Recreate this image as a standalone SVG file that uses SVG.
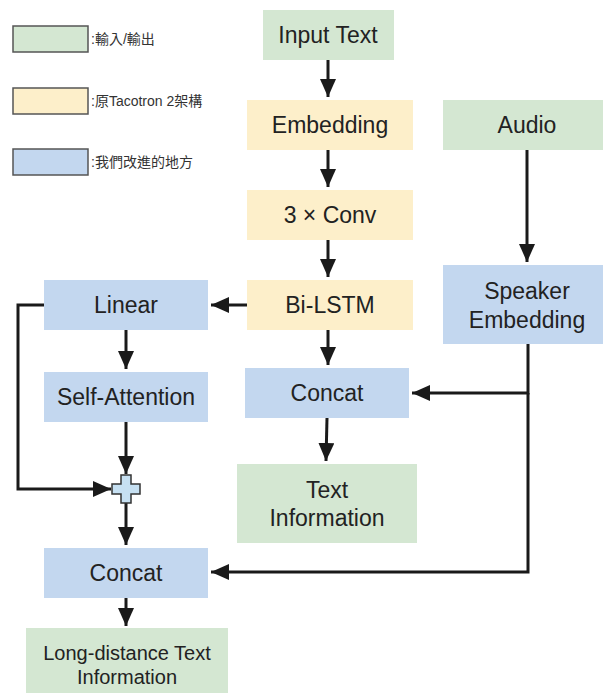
<svg xmlns="http://www.w3.org/2000/svg" width="603" height="693" viewBox="0 0 603 693">
<defs>
<marker id="arr" markerUnits="userSpaceOnUse" markerWidth="20" markerHeight="18" refX="18" refY="8" orient="auto">
<path d="M0,0 L18,8 L0,16 Z" fill="#1a1a1a"/>
</marker>
<style>
.g{fill:#d4e7d2}
.y{fill:#fdefca}
.b{fill:#c3d7ef}
.lg{stroke:#555;stroke-width:1.5}
.t{font-family:"Liberation Sans",Arial,sans-serif;font-size:23px;fill:#222;text-anchor:middle}
.s{font-size:20px}
.l{font-family:"Liberation Sans","Noto Sans CJK TC",sans-serif;font-size:14px;fill:#333}
.c{fill:none;stroke:#1a1a1a;stroke-width:3}
</style>
</defs>
<rect width="603" height="693" fill="#fff"/>
<g id="legend">
<rect class="g lg" x="13" y="26" width="75" height="26"/>
<text class="l" x="91" y="44">:輸入/輸出</text>
<rect class="y lg" x="13" y="88" width="75" height="26"/>
<text class="l" x="91" y="106">:原Tacotron 2架構</text>
<rect class="b lg" x="13" y="149" width="75" height="26"/>
<text class="l" x="91" y="167">:我們改進的地方</text>
</g>
<g id="connectors">
<line class="c" x1="328" y1="60" x2="328" y2="97" marker-end="url(#arr)"/>
<line class="c" x1="328" y1="150" x2="328" y2="187" marker-end="url(#arr)"/>
<line class="c" x1="328" y1="240" x2="328" y2="277" marker-end="url(#arr)"/>
<line class="c" x1="527" y1="150" x2="527" y2="262" marker-end="url(#arr)"/>
<line class="c" x1="247" y1="305" x2="211" y2="305" marker-end="url(#arr)"/>
<line class="c" x1="328" y1="330" x2="328" y2="365" marker-end="url(#arr)"/>
<polyline class="c" points="528,344 528,393 412,393" marker-end="url(#arr)"/>
<polyline class="c" points="528,393 528,572 211,572" marker-end="url(#arr)"/>
<line class="c" x1="327" y1="418" x2="326" y2="461" marker-end="url(#arr)"/>
<line class="c" x1="126" y1="330" x2="126" y2="369" marker-end="url(#arr)"/>
<line class="c" x1="126" y1="422" x2="126" y2="474" marker-end="url(#arr)"/>
<polyline class="c" points="44,305 18,305 18,489 111,489" marker-end="url(#arr)"/>
<line class="c" x1="126" y1="503" x2="126" y2="545" marker-end="url(#arr)"/>
<line class="c" x1="126" y1="598" x2="126" y2="626" marker-end="url(#arr)"/>
</g>
<g id="input-text"><rect class="g" x="263" y="10" width="131" height="50"/><text class="t" x="328" y="43">Input Text</text></g>
<g id="embedding"><rect class="y" x="247" y="100" width="166" height="50"/><text class="t" x="330" y="133">Embedding</text></g>
<g id="conv"><rect class="y" x="247" y="190" width="166" height="50"/><text class="t" x="330" y="223">3 × Conv</text></g>
<g id="bilstm"><rect class="y" x="247" y="280" width="166" height="50"/><text class="t" x="330" y="313">Bi-LSTM</text></g>
<g id="audio"><rect class="g" x="443" y="100" width="168" height="50"/><text class="t" x="527" y="133">Audio</text></g>
<g id="speaker-embedding"><rect class="b" x="443" y="265" width="168" height="79"/><text class="t" x="527" y="299">Speaker</text><text class="t" x="527" y="328">Embedding</text></g>
<g id="concat-mid"><rect class="b" x="245" y="368" width="164" height="50"/><text class="t" x="327" y="401">Concat</text></g>
<g id="text-information"><rect class="g" x="237" y="464" width="180" height="79"/><text class="t" x="327" y="498">Text</text><text class="t" x="327" y="526">Information</text></g>
<g id="linear"><rect class="b" x="44" y="280" width="164" height="50"/><text class="t" x="126" y="313">Linear</text></g>
<g id="self-attention"><rect class="b" x="44" y="372" width="164" height="50"/><text class="t" x="126" y="405">Self-Attention</text></g>
<g id="plus"><polygon points="121,475 131,475 131,484 140,484 140,494 131,494 131,503 121,503 121,494 112,494 112,484 121,484" fill="#c6e0f2" stroke="#333" stroke-width="1.5"/></g>
<g id="concat-bottom"><rect class="b" x="44" y="548" width="164" height="50"/><text class="t" x="126" y="581">Concat</text></g>
<g id="long-distance"><rect class="g" x="26" y="628" width="202" height="70"/><text class="t s" x="127" y="660">Long-distance Text</text><text class="t s" x="127" y="684">Information</text></g>
</svg>
